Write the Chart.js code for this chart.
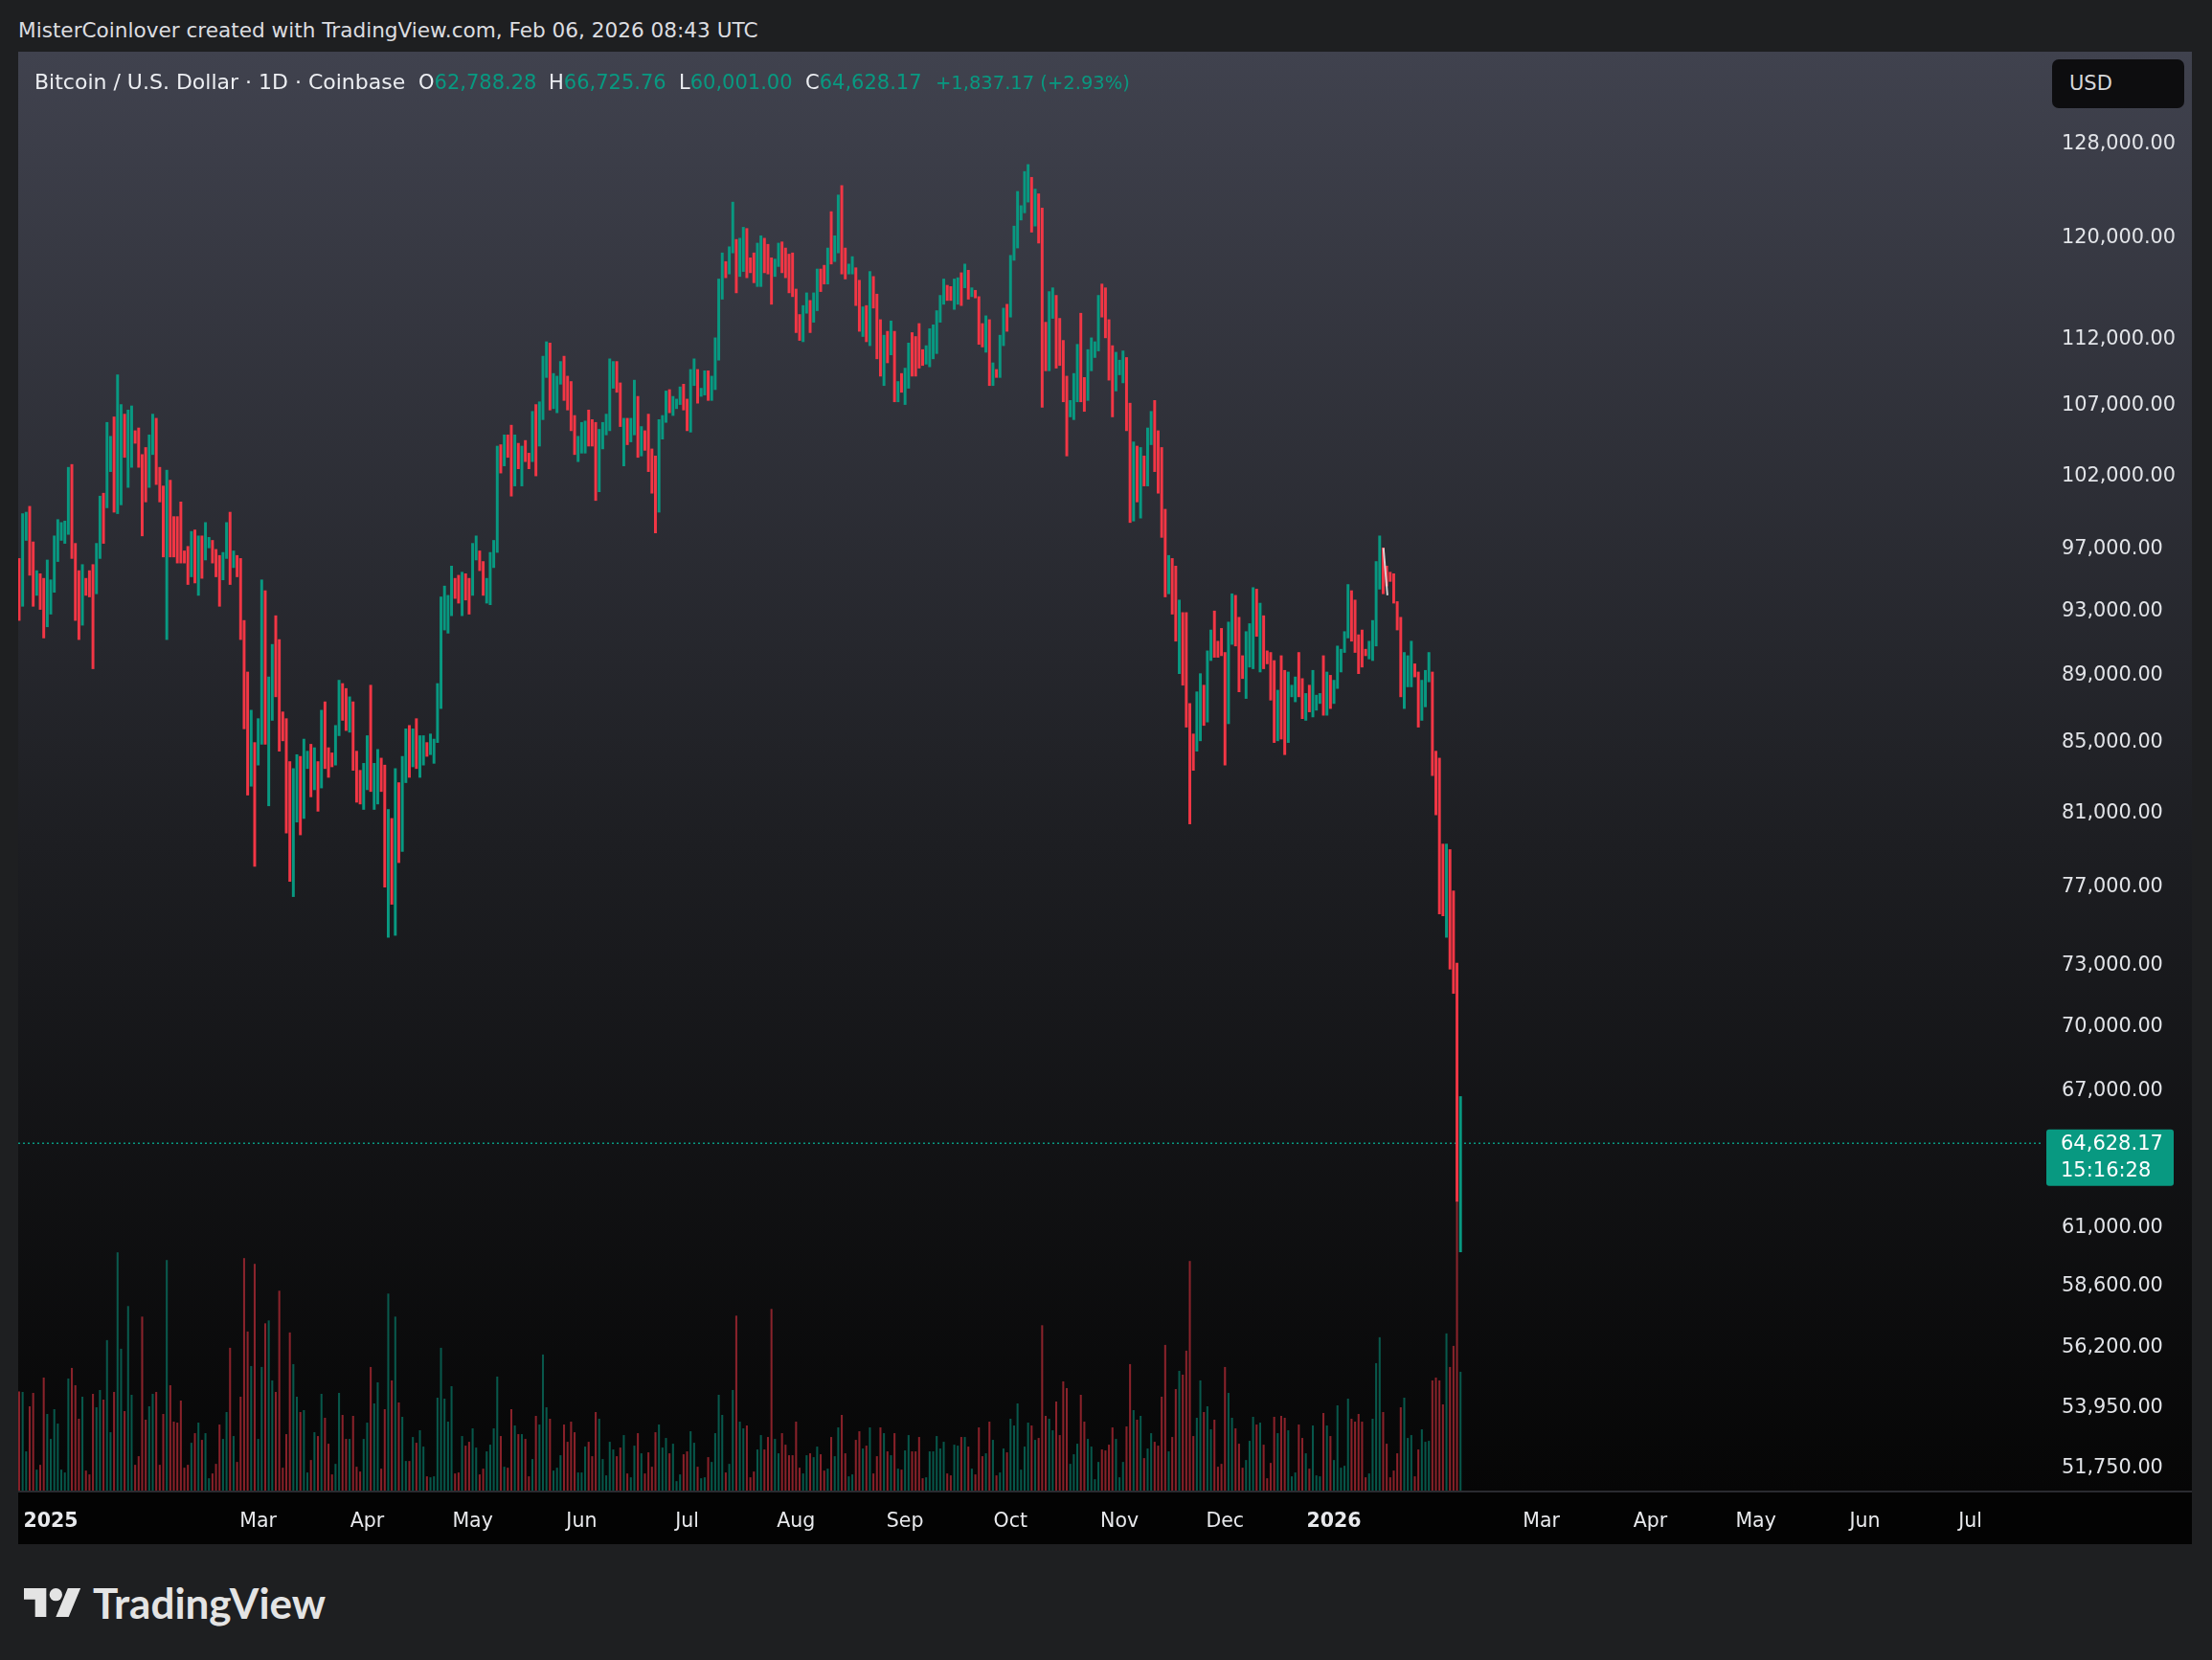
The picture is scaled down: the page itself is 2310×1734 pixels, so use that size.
<!DOCTYPE html>
<html><head><meta charset="utf-8">
<script src="https://cdn.jsdelivr.net/npm/chart.js@4.4.1/dist/chart.umd.min.js"></script>
<style>
html,body{margin:0;padding:0;width:2310px;height:1734px;overflow:hidden;background:#1e1f21;}
.t{position:absolute;white-space:nowrap;font-family:'DejaVu Sans',sans-serif;}
#title{left:19px;top:18.5px;font-size:21.6px;color:#dcdde0;}
.lg{top:73.5px;font-size:21px;color:#eceef2;}
#lgName{font-size:22px;top:72.5px;}
#lgChg{font-size:19.5px;top:74.5px;}
.g{color:#089981;}
#wrap{position:absolute;left:19px;top:54px;width:2270px;height:1559px;}
#usd{position:absolute;left:2143px;top:62px;width:138px;height:51px;border-radius:7px;background:#0d0d0f;color:#d6d7da;font:21px 'DejaVu Sans',sans-serif;line-height:51px;padding-left:18px;box-sizing:border-box;}
#logo{position:absolute;left:25px;top:1651px;height:46px;display:flex;align-items:center;}
#logo span{font-family:Lato,sans-serif;font-weight:700;font-size:44px;color:#e4e4e4;margin-left:12px;}
</style></head>
<body>
<div id="title" class="t">MisterCoinlover created with TradingView.com, Feb 06, 2026 08:43 UTC</div>
<div id="wrap"><canvas id="c" width="2270" height="1559"></canvas></div>
<div id="lgName" class="t lg" style="left:36px">Bitcoin / U.S. Dollar · 1D · Coinbase</div>
<div id="lgO" class="t lg" style="left:437px"></div>
<div id="lgH" class="t lg" style="left:573px"></div>
<div id="lgL" class="t lg" style="left:709px"></div>
<div id="lgC" class="t lg" style="left:841px"></div>
<div id="lgChg" class="t lg g" style="left:977px"></div>
<div id="usd">USD</div>
<div id="logo"><svg width="60" height="30" viewBox="0 4 36 18"><path fill="#e4e4e4" d="M14 22H7V11H0V4h14v18zM28 22h-8l7.5-18h8L28 22z"/><circle fill="#e4e4e4" cx="20" cy="8" r="4"/></svg><span>TradingView</span></div>
<script>
// ---------- DATA (daily bars, BTC/USD Coinbase, first bar 2024-12-23) ----------
const startDate = '2024-12-23';
const opens = [
95100,94700,98700,99400,95800,94200,95200,93500,92600,
93400,94400,96900,98100,98200,98300,102200,96900,95000,92500,94700,94500,94300,94200,96500,100500,99900,104100,104400,101300,102300,106100,103700,104000,104800,104700,102700,102000,101300,103700,104700,
102400,100600,97700,101400,97800,96600,96500,96400,96300,96200,97400,95800,97800,96600,97500,97600,96200,95800,95600,96600,98400,96200,96600,96300,91500,88700,84700,84800,
84300,86000,94300,86100,87200,90600,89900,86700,86200,80700,78500,82900,83700,81100,83900,84300,82600,83900,82700,86800,84200,84100,83800,86000,87500,87400,86900,87200,84400,82600,82400,
82500,85200,82500,83100,83900,83500,78400,79200,76300,82600,79600,83400,85300,83700,84500,83600,84000,84900,84500,85100,85200,87500,93400,93700,93900,94700,94600,93800,95000,94300,
94200,96500,96900,95900,94300,94700,96800,97000,103200,102900,104600,104100,102800,104100,103500,103700,103500,103200,106500,105600,106800,109700,111700,107300,107800,109000,109400,108900,107800,105600,103900,
104600,105700,105800,105400,104700,101500,104400,105600,105700,110200,110300,108700,105900,106000,105400,105600,106800,104600,104900,104600,103300,102200,100900,105400,106000,107300,106900,107100,107300,108400,
107100,105700,108800,109600,108000,108200,109200,108200,108900,111300,115900,117500,117400,119100,119800,117700,118600,119200,117900,117800,117300,117400,119900,118700,118300,117600,117900,119400,118000,117800,117700,
115700,113300,112500,114200,115000,114100,115000,117500,116600,116500,119200,118700,120100,123300,118300,117400,117500,117600,116300,112900,114300,112500,116900,115400,113500,110100,111800,111200,112600,108400,108800,
108200,109200,111200,110800,110600,110500,110200,111100,112000,112200,113900,115300,116100,115900,115300,115400,116700,116400,117100,115700,115800,115300,112700,112100,113300,109000,109700,109600,112100,114400,
113800,118600,120600,122300,122400,123500,124700,121400,123300,121700,113200,110700,115200,115300,113100,110800,108200,106400,107200,108700,110600,108400,107600,110100,111000,111600,114500,114100,112900,110000,108300,
109600,110000,110600,106500,101500,103900,101300,103400,102300,104700,106000,103000,101600,99700,94500,95500,94200,92200,92900,91500,86600,85100,84700,86800,88300,87400,90500,91300,90900,90800,
90400,86300,91300,93500,92100,89400,89300,90400,90600,92700,92000,92500,90300,90200,88200,86400,87800,86100,85500,88100,88300,88600,88500,87400,87600,87200,87300,87700,87800,87100,88400,
87500,88700,90000,90600,91400,93900,93700,91300,91000,90500,90400,90800,91200,95300,97000,95500,95400,95100,93600,92500,88300,89500,89600,89700,89200,86600,88100,89100,89200,84500,84100,
78700,77000,78700,75700,73000,62788.28
];
const highs = [
96400,99400,99500,99900,97500,95600,95400,95100,96300,
95000,97900,99000,98800,98900,102600,102800,97400,95600,96000,95100,95600,96000,97400,100600,100800,105800,104800,106200,109300,107100,106400,106700,107000,105200,105400,103500,104000,104900,106400,106100,
102600,101300,102400,101700,99200,99200,100200,96900,97200,98200,98300,97900,97900,98800,97800,97600,97000,96600,96800,98800,99500,96900,96600,96400,92400,89200,86900,85000,
86400,95000,94300,88900,90900,92700,91200,86800,86400,83900,83500,84300,84200,85200,84500,84900,84700,83900,86900,87400,84700,84400,86000,88700,88500,88200,87700,87400,84500,83400,83800,
85400,88400,83800,84600,84100,83700,81200,80700,83500,82700,84200,85800,86000,85800,86400,85400,85400,85000,85500,85200,88500,93900,94600,94000,95900,95100,95300,95500,95400,95100,
97400,97900,96900,96200,95100,96800,97600,104100,104200,104900,104900,105600,104900,104300,104100,104500,103600,106600,107100,107300,110700,111800,111700,109400,109200,110300,110700,109200,108800,106300,104800,
105800,105900,106700,106000,105800,105300,105800,106400,110500,110300,110300,108700,106100,106100,106100,108900,107700,105500,105200,106400,103900,103400,106000,106300,108100,108200,107700,107500,108400,108600,
107500,109700,110500,109700,108300,109600,109600,109200,112100,116700,118800,118100,119300,123000,119900,120000,120900,120800,118400,118800,119600,120200,120000,119500,118400,118300,119600,119700,119200,118700,118800,
115900,113900,114600,115600,115000,115600,117500,117500,117800,119200,122200,120200,123600,124400,119200,117900,118500,117600,116600,114500,114600,117300,116900,115500,113500,112300,112600,113400,112600,108800,109400,
109800,111700,112500,112200,113200,111200,111500,112800,113100,114200,115400,116700,116200,116100,116700,116800,117200,117900,117400,116000,115800,115300,113200,113800,113500,110200,109700,112300,114400,114700,
118600,121000,123900,122700,125600,126200,125100,124100,123700,122500,113300,115700,116000,115400,113600,111900,109200,107400,109400,111600,114000,109100,111200,112100,111800,115400,116300,116000,113500,111500,111000,
110400,111100,110600,107200,104400,104100,104000,103400,105400,106600,107400,105200,104000,99700,96600,96400,95900,93700,92900,92900,87300,85500,88000,89100,88400,90500,91800,93000,91100,91900,
90400,92300,94100,94000,92600,90200,91700,92200,94500,94400,93500,92700,90500,90400,89900,88100,90200,89300,89200,88400,88900,90400,88800,87900,88400,89300,87800,87900,90200,89200,89000,
88700,90800,90600,91700,94700,94300,93700,91500,91800,90600,91100,92400,96200,97900,97100,95900,95500,95400,93600,92600,90400,90200,91100,89700,89200,88700,89300,90400,89200,84500,84100,
79300,79300,79000,76800,73100,66725.76
];
const lows = [
92400,93300,97600,95300,93300,94000,93100,91300,92000,
92800,94200,96200,97600,97400,98000,96400,92400,91200,92100,94000,93900,89400,94100,96400,97400,99800,102300,99500,99400,100000,103300,101200,102600,104300,102600,97900,100200,101200,103500,101400,
100200,96500,91200,96500,96500,96100,96100,96100,94700,95200,94800,94000,95100,96300,97100,96100,95200,93300,95000,96400,94700,95800,95200,91200,85800,82000,82500,78100,
83700,84900,84900,81400,86300,87700,84500,85100,79900,77300,76500,80500,79800,80700,83500,81900,82300,81100,82400,83500,83000,83600,83700,85400,86300,85700,85600,83400,81600,81500,81200,
82300,82200,81200,81500,82200,77000,74400,76100,74500,78300,78900,82700,83000,83600,83500,83000,83700,84200,84300,83800,85000,87000,91800,91600,92700,93800,93500,92700,93700,92800,
94000,96300,95600,94000,93500,93400,95800,96800,102200,102700,103300,100600,101300,102500,101300,103000,102500,103000,102000,104100,106000,109100,106700,106800,106500,108600,107400,106700,105200,103500,103000,
103600,103600,104100,104100,100300,100900,103900,104900,105200,108300,108000,105500,102700,104200,104400,104900,103300,103400,103800,102300,100800,98100,99500,104600,105800,106500,106300,106800,107100,106700,
105200,105100,108500,107200,107700,107800,107400,107400,108200,110400,115100,116800,117100,118800,115600,116900,117300,116800,117200,116400,116100,116100,117200,117100,114700,116900,117700,117200,116800,115600,115300,
112500,111900,111800,114000,112500,113300,114200,115700,116300,116300,117900,118100,118800,117100,116700,117100,117100,114600,112600,112200,111800,111500,114400,110500,109200,108500,110200,110800,107300,107300,108000,
107100,108300,109200,109200,109800,110000,110100,109900,110500,110900,113300,114700,115000,115000,114300,114700,114600,116000,115100,115300,115200,111600,111400,111000,108500,108500,109100,109100,111500,112600,
113700,118200,119200,121500,122100,123000,120500,121000,119600,106900,109600,109600,113600,109800,110000,107300,103400,106200,106000,107300,107300,106600,107400,109600,110600,111100,113700,112100,108900,106200,108100,
109300,108700,105200,98800,98900,100200,99100,101300,101300,104200,102300,100800,97800,93900,94100,92800,91100,89100,88400,85900,80400,83400,84500,85100,86000,86200,89900,90100,90100,90200,
83700,86100,90900,90800,88000,88800,87600,89500,89400,91400,89200,89400,89700,87500,85000,85100,85200,84300,85000,87700,87400,87700,86400,86300,86800,86500,86900,87300,86600,86600,87000,
87300,88200,89200,90400,91300,91100,90400,89100,89500,90200,90000,89900,90800,94400,94100,94600,94900,93500,91800,87700,87000,88300,88300,88900,85900,86300,87100,88600,83100,80900,75600,
75500,74400,72800,71600,62100,60001.00
];
const closes = [
94700,98700,99400,95800,94200,95200,93500,92600,93400,
94400,96900,98100,98200,98300,102200,96900,95000,92500,94700,94500,94300,94200,96500,100500,99900,104100,104400,101300,102300,106100,103700,104000,104800,104700,102700,102000,101300,103700,104700,102400,
100600,97700,101400,97800,96600,96500,96400,96300,96200,97400,95800,97800,96600,97500,97600,96200,95800,95600,96600,98400,96200,96600,96300,91500,88700,84700,84800,84300,
86000,94300,86100,87200,90600,89900,86700,86200,80700,78500,82900,83700,81100,83900,84300,82600,83900,82700,86800,84200,84100,83800,86000,87500,87400,86900,87200,84400,82600,82400,82500,
85200,82500,83100,83900,83500,78400,79200,76300,82600,79600,83400,85300,83700,84500,83600,84000,84900,84500,85100,85200,87500,93400,93700,93900,94700,94600,93800,95000,94300,94200,
96500,96900,95900,94300,94700,96800,97000,103200,102900,104600,104100,102800,104100,103500,103700,103500,103200,106500,105600,106800,109700,111700,107300,107800,109000,109400,108900,107800,105600,103900,104600,
105700,105800,105400,104700,101500,104400,105600,105700,110200,110300,108700,105900,106000,105400,105600,106800,104600,104900,104600,103300,102200,100900,105400,106000,107300,106900,107100,107300,108400,107100,
105700,108800,109600,108000,108200,109200,108200,108900,111300,115900,117500,117400,119100,119800,117700,118600,119200,117900,117800,117300,117400,119900,118700,118300,117600,117900,119400,118000,117800,117700,115700,
113300,112500,114200,115000,114100,115000,117500,116600,116500,119200,118700,120100,123300,118300,117400,117500,117600,116300,112900,114300,112500,116900,115400,113500,110100,111800,111200,112600,108400,108800,108200,
109200,111200,110800,110600,110500,110200,111100,112000,112200,113900,115300,116100,115900,115300,115400,116700,116400,117100,115700,115800,115300,112700,112100,113300,109000,109700,109600,112100,114400,113800,
118600,120600,122300,122400,123500,124700,121400,123300,121700,113200,110700,115200,115300,113100,110800,108200,106400,107200,108700,110600,108400,107600,110100,111000,111600,114500,114100,112900,110000,108300,109600,
110000,110600,106500,101500,103900,101300,103400,102300,104700,106000,103000,101600,99700,94500,95500,94200,92200,92900,91500,86600,85100,84700,86800,88300,87400,90500,91300,90900,90800,90400,
86300,91300,93500,92100,89400,89300,90400,90600,92700,92000,92500,90300,90200,88200,86400,87800,86100,85500,88100,88300,88600,88500,87400,87600,87200,87300,87700,87800,87100,88400,87500,
88700,90000,90600,91400,93900,93700,91300,91000,90500,90400,90800,91200,95300,97000,95500,95400,95100,93600,92500,88300,89500,89600,89700,89200,86600,88100,89100,89200,84500,84100,78700,
77000,78700,75700,73000,62791.00,64628.17
];
const volumes = [
20600,20500,8100,17500,20300,4300,5300,23500,15900,
10700,16900,13900,4300,3700,23300,25500,21900,14900,19500,4100,3300,20100,17300,20900,18900,31300,12100,20500,49600,29500,16500,38400,19900,5300,7100,36200,14700,17500,20100,20500,
5300,15900,48000,21900,14300,14100,18700,4700,5300,9900,11900,14100,10500,11900,2500,3500,5500,13700,10700,16300,29700,11300,5900,19500,48400,33100,25900,47200,
10700,25700,34800,35400,22900,20500,41600,4700,11700,32900,26300,19500,16300,16700,3700,6300,12100,11300,20100,15100,9700,3300,5500,20300,15700,10700,10700,15500,4900,3900,10700,
14100,25700,18100,22500,4500,16900,41000,22900,36200,18300,15300,6100,6100,11100,9900,12500,9100,2900,2700,2900,19300,29700,19100,14300,21700,3500,3700,11300,9300,10100,
12900,8900,3300,4500,8100,9500,12900,23700,11300,4900,4700,16900,13500,11700,11700,10700,2900,6500,15500,13700,28300,17300,14900,4100,4700,7300,13700,10100,14300,12100,3700,
3700,9100,10100,7100,16300,14900,6500,3100,10100,8500,7100,8900,11500,3500,2700,9300,11900,7700,3500,7900,4900,12100,13700,8900,10900,7700,9700,1900,3300,7500,
8100,12300,9900,4900,2500,2700,6900,5900,11900,19900,15700,3700,5500,20900,36400,14300,12900,13500,2700,3900,8500,11500,8500,11100,37800,10700,7700,11900,9500,7300,7300,
14300,4700,3500,7300,7700,6900,9100,7500,4100,4500,11100,7100,13100,15700,7700,2900,3300,10500,12300,8700,9300,13100,3500,7100,13100,11900,8100,7300,11900,4500,4300,
8300,11500,8100,8100,11100,2500,2700,8100,8100,11300,8700,10100,3500,3100,9500,9300,11100,11100,9100,4500,3300,13100,7100,7700,14300,10500,3100,3700,8700,7900,
14900,13500,18100,4300,9100,14100,13500,10500,10900,34400,15500,14900,12500,18500,11500,22700,21300,5500,7500,9700,19900,14300,10700,9100,2300,5900,8500,8300,9500,13100,10700,
2700,5900,13300,26300,16700,14700,15500,6700,8700,11900,10100,9300,19500,30300,8100,11100,21100,24900,24100,29100,47800,11300,15100,22900,16300,17500,12700,14700,4900,5500,
25700,20300,15100,12900,9700,4700,6300,10300,15300,13700,14100,9500,2500,5700,15300,11900,15500,15100,12500,2900,3700,13700,10900,7700,4500,13500,3100,2900,16100,13500,11300,
6300,17700,4700,5100,19100,14900,14300,15900,14300,2700,3500,14900,26500,31900,16300,9700,2700,4100,7700,17300,19300,10900,11500,2900,8500,12700,10100,10300,22900,23500,22900,
17900,32700,25700,30100,60000,24700
];
const timeTickDates = ['2025-01-01','2025-03-01','2025-04-01','2025-05-01','2025-06-01','2025-07-01','2025-08-01','2025-09-01','2025-10-01','2025-11-01','2025-12-01','2026-01-01','2026-03-01','2026-04-01','2026-05-01','2026-06-01','2026-07-01'];
const timeTickLabels = ['2025','Mar','Apr','May','Jun','Jul','Aug','Sep','Oct','Nov','Dec','2026','Mar','Apr','May','Jun','Jul'];
const priceTicks = [128000,120000,112000,107000,102000,97000,93000,89000,85000,81000,77000,73000,70000,67000,61000,58600,56200,53950,51750];
const drawingDates = ['2026-01-15T02:00:00Z','2026-01-16T05:00:00Z'];
const drawingPrices = [97100,94000];
const countdown = '15:16:28';
// visible window
const viewStart = '2024-12-22T17:38:00Z', viewEnd = '2026-07-21T19:40:00Z';
const priceMin = 50967, priceMax = 136324;

// ---------- BUILD ----------
const ORIGIN = Date.UTC(2025,0,1);
const dayOf = s => (Date.parse(s) - ORIGIN) / 864e5;
const d0 = dayOf(startDate + 'T00:00:00Z');
const days = closes.map((_, i) => d0 + i);
const UP = '#089981', DOWN = '#f23645';
const isUp = closes.map((c, i) => c >= opens[i]);
const last = closes.length - 1;
const xMin = dayOf(viewStart), xMax = dayOf(viewEnd);
const fmt = v => Number(v).toLocaleString('en-US', {minimumFractionDigits: 2, maximumFractionDigits: 2});

document.getElementById('lgO').innerHTML = 'O<span class="g">' + fmt(opens[last]) + '</span>';
document.getElementById('lgH').innerHTML = 'H<span class="g">' + fmt(highs[last]) + '</span>';
document.getElementById('lgL').innerHTML = 'L<span class="g">' + fmt(lows[last]) + '</span>';
document.getElementById('lgC').innerHTML = 'C<span class="g">' + fmt(closes[last]) + '</span>';
const chg = closes[last] - closes[last - 1];
document.getElementById('lgChg').textContent = (chg >= 0 ? '+' : '') + fmt(chg) + ' (' + (chg >= 0 ? '+' : '') + (chg / closes[last - 1] * 100).toFixed(2) + '%)';

const bgPlugin = {
  id: 'bg',
  beforeDraw(chart) {
    const {ctx, chartArea: a, width, height} = chart;
    ctx.save();
    const g = ctx.createLinearGradient(0, a.top, 0, a.bottom);
    g.addColorStop(0, '#40424e');
    g.addColorStop(0.55, '#1d1e22');
    g.addColorStop(1, '#060606');
    ctx.fillStyle = g;
    ctx.fillRect(0, 0, width, a.bottom);
    ctx.fillStyle = '#030303';
    ctx.fillRect(0, a.bottom, width, height - a.bottom);
    ctx.fillStyle = '#2a2b30';
    ctx.fillRect(0, a.bottom, width, 2);
    ctx.restore();
  }
};
const labelPlugin = {
  id: 'lastLabel',
  afterDraw(chart) {
    const {ctx, chartArea: a} = chart;
    const y = chart.scales.y.getPixelForValue(closes[last]);
    ctx.save();
    ctx.fillStyle = UP;
    ctx.beginPath();
    ctx.roundRect(a.right + 3, y - 14.5, 133, 59, 3);
    ctx.fill();
    ctx.fillStyle = '#ffffff';
    ctx.font = '21px "DejaVu Sans"';
    ctx.textAlign = 'left';
    ctx.textBaseline = 'middle';
    ctx.fillText(fmt(closes[last]), a.right + 18, y + 1);
    ctx.fillText(countdown, a.right + 18, y + 29);
    ctx.restore();
  }
};

new Chart(document.getElementById('c'), {
  type: 'bar',
  data: {
    datasets: [
      {
        type: 'bar', label: 'Volume', yAxisID: 'yv', order: 3, grouped: false,
        data: days.map((d, i) => ({x: d, y: volumes[i]})),
        backgroundColor: isUp.map(u => u ? 'rgba(8,153,129,0.55)' : 'rgba(242,54,69,0.55)'),
        barThickness: 1.4, borderWidth: 0
      },
      {
        type: 'bar', label: 'BTCUSD', yAxisID: 'y', order: 1, grouped: false,
        data: days.map((d, i) => ({x: d, y: [lows[i], highs[i]]})),
        backgroundColor: isUp.map(u => u ? UP : DOWN),
        barThickness: 2.3, borderWidth: 0, borderSkipped: false
      },
      {
        type: 'line', label: 'last', yAxisID: 'y', order: 2,
        data: [{x: xMin, y: closes[last]}, {x: xMax, y: closes[last]}],
        borderColor: UP, borderWidth: 1.5, borderDash: [2, 3], pointRadius: 0
      },
      {
        type: 'line', label: 'drawing', yAxisID: 'y', order: 0,
        data: drawingDates.map((s, i) => ({x: dayOf(s), y: drawingPrices[i]})),
        borderColor: 'rgba(225,225,225,0.9)', borderWidth: 2, pointRadius: 0
      }
    ]
  },
  options: {
    responsive: false, animation: false,
    layout: {padding: 0},
    plugins: {legend: {display: false}, tooltip: {enabled: false}},
    scales: {
      x: {
        type: 'linear', min: xMin, max: xMax, offset: false, bounds: 'data',
        grid: {display: false, drawTicks: false}, border: {display: false},
        afterBuildTicks: s => { s.ticks = timeTickDates.map(t => ({value: dayOf(t + 'T00:00:00Z')})); },
        afterFit: s => { s.height = 56; s.paddingLeft = 0; s.paddingRight = 0; },
        ticks: {
          autoSkip: false, maxRotation: 0, padding: 20, color: '#e8e9ec',
          font: ctx => ({family: 'DejaVu Sans', size: 20.5, weight: /^\d{4}$/.test(timeTickLabels[ctx.index] || '') ? 'bold' : 'normal'}),
          callback: (v, i) => timeTickLabels[i]
        }
      },
      y: {
        type: 'logarithmic', position: 'right', min: priceMin, max: priceMax, bounds: 'data',
        grid: {display: false, drawTicks: false}, border: {display: false},
        afterBuildTicks: s => { s.ticks = priceTicks.map(v => ({value: v})); },
        afterFit: s => { s.width = 155; s.paddingTop = 0; s.paddingBottom = 0; },
        ticks: {autoSkip: false, padding: 19, crossAlign: 'near', color: '#e2e4e8',
          font: {family: 'DejaVu Sans', size: 20.8, lineHeight: 1.3}, callback: v => fmt(v)}
      },
      yv: {
        type: 'linear', display: false, min: 0, max: Math.max(...volumes) / 0.2
      }
    }
  },
  plugins: [bgPlugin, labelPlugin]
});
</script>
</body></html>
